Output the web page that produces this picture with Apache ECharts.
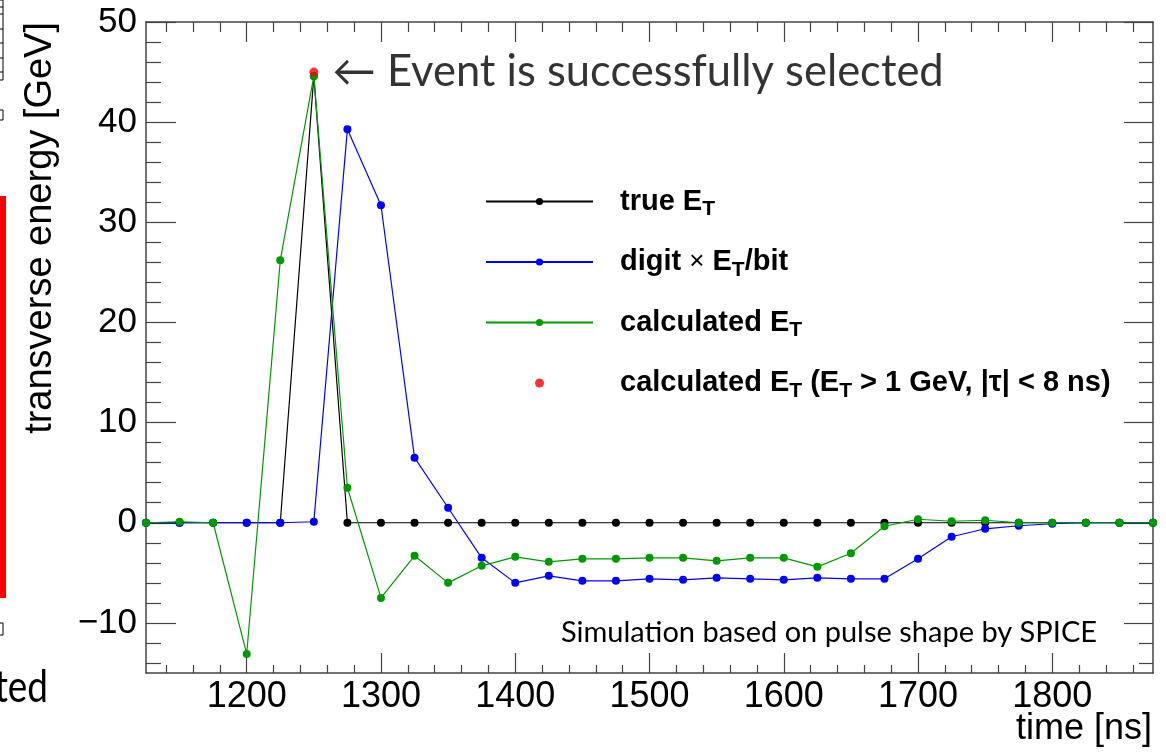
<!DOCTYPE html>
<html>
<head>
<meta charset="utf-8">
<script src="https://cdn.jsdelivr.net/npm/echarts@6/dist/echarts.min.js"></script>
<style>
  html, body { margin: 0; padding: 0; background: #fff; }
  #chart { width: 1166px; height: 754px; }
</style>
</head>
<body>
<div id="chart"></div>
<script>
// sampling times [ns]
const times = [1125, 1150, 1175, 1200, 1225, 1250, 1275, 1300, 1325, 1350, 1375, 1400, 1425, 1450, 1475, 1500,
  1525, 1550, 1575, 1600, 1625, 1650, 1675, 1700, 1725, 1750, 1775, 1800, 1825, 1850, 1875];
// true E_T
const trueEt = [0, 0, 0, 0, 0, 44.6, 0, 0, 0, 0, 0, 0, 0, 0, 0, 0,
  0, 0, 0, 0, 0, 0, 0, 0, 0, 0, 0, 0, 0, 0, 0];
// digit x E_T/bit
const digitEt = [0, 0, 0, 0, 0, 0.1, 39.3, 31.7, 6.5, 1.5, -3.5, -6.0, -5.3, -5.8, -5.8, -5.6,
  -5.7, -5.5, -5.6, -5.7, -5.5, -5.6, -5.6, -3.6, -1.4, -0.6, -0.3, -0.1, 0, 0, 0];
// calculated E_T
const calcEt = [0, 0.1, 0, -13.1, 26.2, 44.6, 3.5, -7.5, -3.3, -6.0, -4.3, -3.4, -3.9, -3.6, -3.6, -3.5,
  -3.5, -3.8, -3.5, -3.5, -4.4, -3.05, -0.35, 0.35, 0.15, 0.25, 0, 0, 0, 0, 0];
// selected point (E_T > 1 GeV, |tau| < 8 ns)
const selTime = [1250];
const selEt = [45.0];

const xMajor = [1200, 1300, 1400, 1500, 1600, 1700, 1800];
const yMajor = [-10, 0, 10, 20, 30, 40, 50];
const xMinor = [];
for (let t = 1140; t <= 1860; t += 20) if (t % 100 !== 0) xMinor.push(t);
const yMinor = [];
for (let v = -14; v <= 48; v += 2) if (v % 10 !== 0) yMinor.push(v);

const seriesNames = ['true', 'digit', 'calc', 'calcSel'];
const legendLabels = [
  '{bf|true E}{s|T}',
  '{bf|digit }{x|×}{b| E}{s|T}{b|/bit}',
  '{bf|calculated E}{s|T}',
  '{bf|calculated E}{s|T}{b| (E}{s|T}{b| > 1 GeV, |τ| < 8 ns)}'
];

const zip = (xs, ys) => xs.map((x, i) => [x, ys[i]]);
const frameColor = '#444';

function xAx(pos, ticks, len, labels, line) {
  return {
    type: 'value', position: pos, min: 1125, max: 1875,
    axisLine: { show: line, onZero: false, lineStyle: { color: frameColor, width: 1.5 } },
    axisTick: { show: true, inside: true, length: len, customValues: ticks, lineStyle: { color: frameColor, width: 1.2 } },
    axisLabel: {
      show: labels, customValues: ticks, margin: 6, color: '#000',
      fontSize: 36, fontFamily: 'Liberation Sans',
      formatter: v => '' + v
    },
    splitLine: { show: false }
  };
}
function yAx(pos, ticks, len, labels, line) {
  return {
    type: 'value', position: pos, min: -15, max: 50,
    axisLine: { show: line, onZero: false, lineStyle: { color: frameColor, width: 1.5 } },
    axisTick: { show: true, inside: true, length: len, customValues: ticks, lineStyle: { color: frameColor, width: 1.2 } },
    axisLabel: {
      show: labels, customValues: ticks, margin: 9, color: '#000',
      fontSize: 35, fontFamily: 'Liberation Sans',
      formatter: v => (v < 0 ? '\u2212' + Math.abs(v) : '' + v)
    },
    splitLine: { show: false }
  };
}

const lineSeries = (name, data, color) => ({
  name, type: 'line', data: zip(times, data),
  symbol: 'circle', symbolSize: 8, showSymbol: true,
  lineStyle: { color, width: 1.2 }, itemStyle: { color },
  xAxisIndex: 0, yAxisIndex: 0
});

const boldText = { fontSize: 29, fontWeight: 'bold', fontFamily: 'Liberation Sans', lineHeight: 34 };

const chart = echarts.init(document.getElementById('chart'));
chart.setOption({
  animation: false,
  backgroundColor: '#fff',
  grid: { left: 146, right: 13, top: 22, bottom: 81 },
  xAxis: [
    xAx('bottom', xMajor, 20, true, true),
    xAx('bottom', xMinor, 8, false, false),
    xAx('top', xMajor, 20, false, true),
    xAx('top', xMinor, 10, false, false)
  ],
  yAxis: [
    yAx('left', yMajor, 30, true, true),
    yAx('left', yMinor, 15, false, false),
    yAx('right', yMajor, 29, false, true),
    yAx('right', yMinor, 14, false, false)
  ],
  legend: {
    orient: 'vertical', left: 485, top: 183, padding: 0,
    itemWidth: 107, itemHeight: 9, itemGap: 23.5,
    selectedMode: false,
    data: seriesNames,
    formatter: name => legendLabels[seriesNames.indexOf(name)],
    textStyle: {
      color: '#000',
      rich: {
        bf: Object.assign({}, boldText, { padding: [0, 0, 0, 22] }),
        b: boldText,
        x: { fontSize: 26, fontFamily: 'Liberation Sans', lineHeight: 34 },
        s: { fontSize: 21, fontWeight: 'bold', fontFamily: 'Liberation Sans', lineHeight: 21, padding: [16, 0, 0, 0] }
      }
    }
  },
  graphic: [
    {
      type: 'text', x: 1152, y: 711,
      style: { text: 'time [ns]', fontSize: 36, fontFamily: 'Liberation Sans', fill: '#000',
        align: 'right', verticalAlign: 'top', textAlign: 'right', textVerticalAlign: 'top' }
    },
    {
      type: 'text', x: 41, y: 22, rotation: Math.PI / 2,
      style: { text: 'transverse energy [GeV]', fontSize: 38, fontFamily: 'Liberation Sans', fill: '#000',
        align: 'right', verticalAlign: 'middle', textAlign: 'right', textVerticalAlign: 'middle' }
    },
    {
      type: 'text', x: 1097, y: 633,
      style: { text: 'Simulation based on pulse shape by SPICE', fontSize: 29, fontFamily: 'Lato', fill: '#000',
        align: 'right', verticalAlign: 'middle', textAlign: 'right', textVerticalAlign: 'middle' }
    },
    // remnants of the neighbouring slide content at the left edge
    { type: 'rect', shape: { x: 0, y: 196, width: 6, height: 402 }, style: { fill: '#ff0000' } },
    {
      type: 'text', x: 48, y: 688, scaleX: 0.84,
      style: { text: 'selected', fontSize: 44, fontFamily: 'Lato', fill: '#000',
        align: 'right', verticalAlign: 'middle', textAlign: 'right', textVerticalAlign: 'middle' }
    },
    { type: 'rect', shape: { x: -2, y: 0, width: 5, height: 80 }, style: { fill: 'none', stroke: '#000', lineWidth: 1 } },
    { type: 'line', shape: { x1: 0, y1: 7, x2: 3, y2: 7 }, style: { stroke: '#000', lineWidth: 1 } },
    { type: 'line', shape: { x1: 0, y1: 14, x2: 3, y2: 14 }, style: { stroke: '#000', lineWidth: 1 } },
    { type: 'line', shape: { x1: 0, y1: 29, x2: 3, y2: 29 }, style: { stroke: '#000', lineWidth: 1 } },
    { type: 'line', shape: { x1: 0, y1: 43, x2: 3, y2: 43 }, style: { stroke: '#000', lineWidth: 1 } },
    { type: 'line', shape: { x1: 0, y1: 58, x2: 3, y2: 58 }, style: { stroke: '#000', lineWidth: 1 } },
    { type: 'line', shape: { x1: 0, y1: 72, x2: 3, y2: 72 }, style: { stroke: '#000', lineWidth: 1 } },
    { type: 'rect', shape: { x: -2, y: 110, width: 5, height: 10 }, style: { fill: 'none', stroke: '#000', lineWidth: 1 } },
    { type: 'rect', shape: { x: -2, y: 623, width: 5, height: 12 }, style: { fill: 'none', stroke: '#000', lineWidth: 1 } }
  ],
  series: [
    lineSeries('true', trueEt, '#000000'),
    lineSeries('digit', digitEt, '#0000ff'),
    lineSeries('calc', calcEt, '#009a00'),
    {
      name: 'calcSel', type: 'scatter', data: zip(selTime, selEt), z: 5,
      symbol: 'circle', symbolSize: 9, itemStyle: { color: '#ff0000' },
      xAxisIndex: 0, yAxisIndex: 0,
      label: {
        show: true, position: 'right', distance: 14,
        formatter: '\u2190 Event is successfully selected',
        fontSize: 43.5, fontFamily: 'Lato, DejaVu Sans', color: '#000'
      }
    }
  ]
});
</script>
</body>
</html>
